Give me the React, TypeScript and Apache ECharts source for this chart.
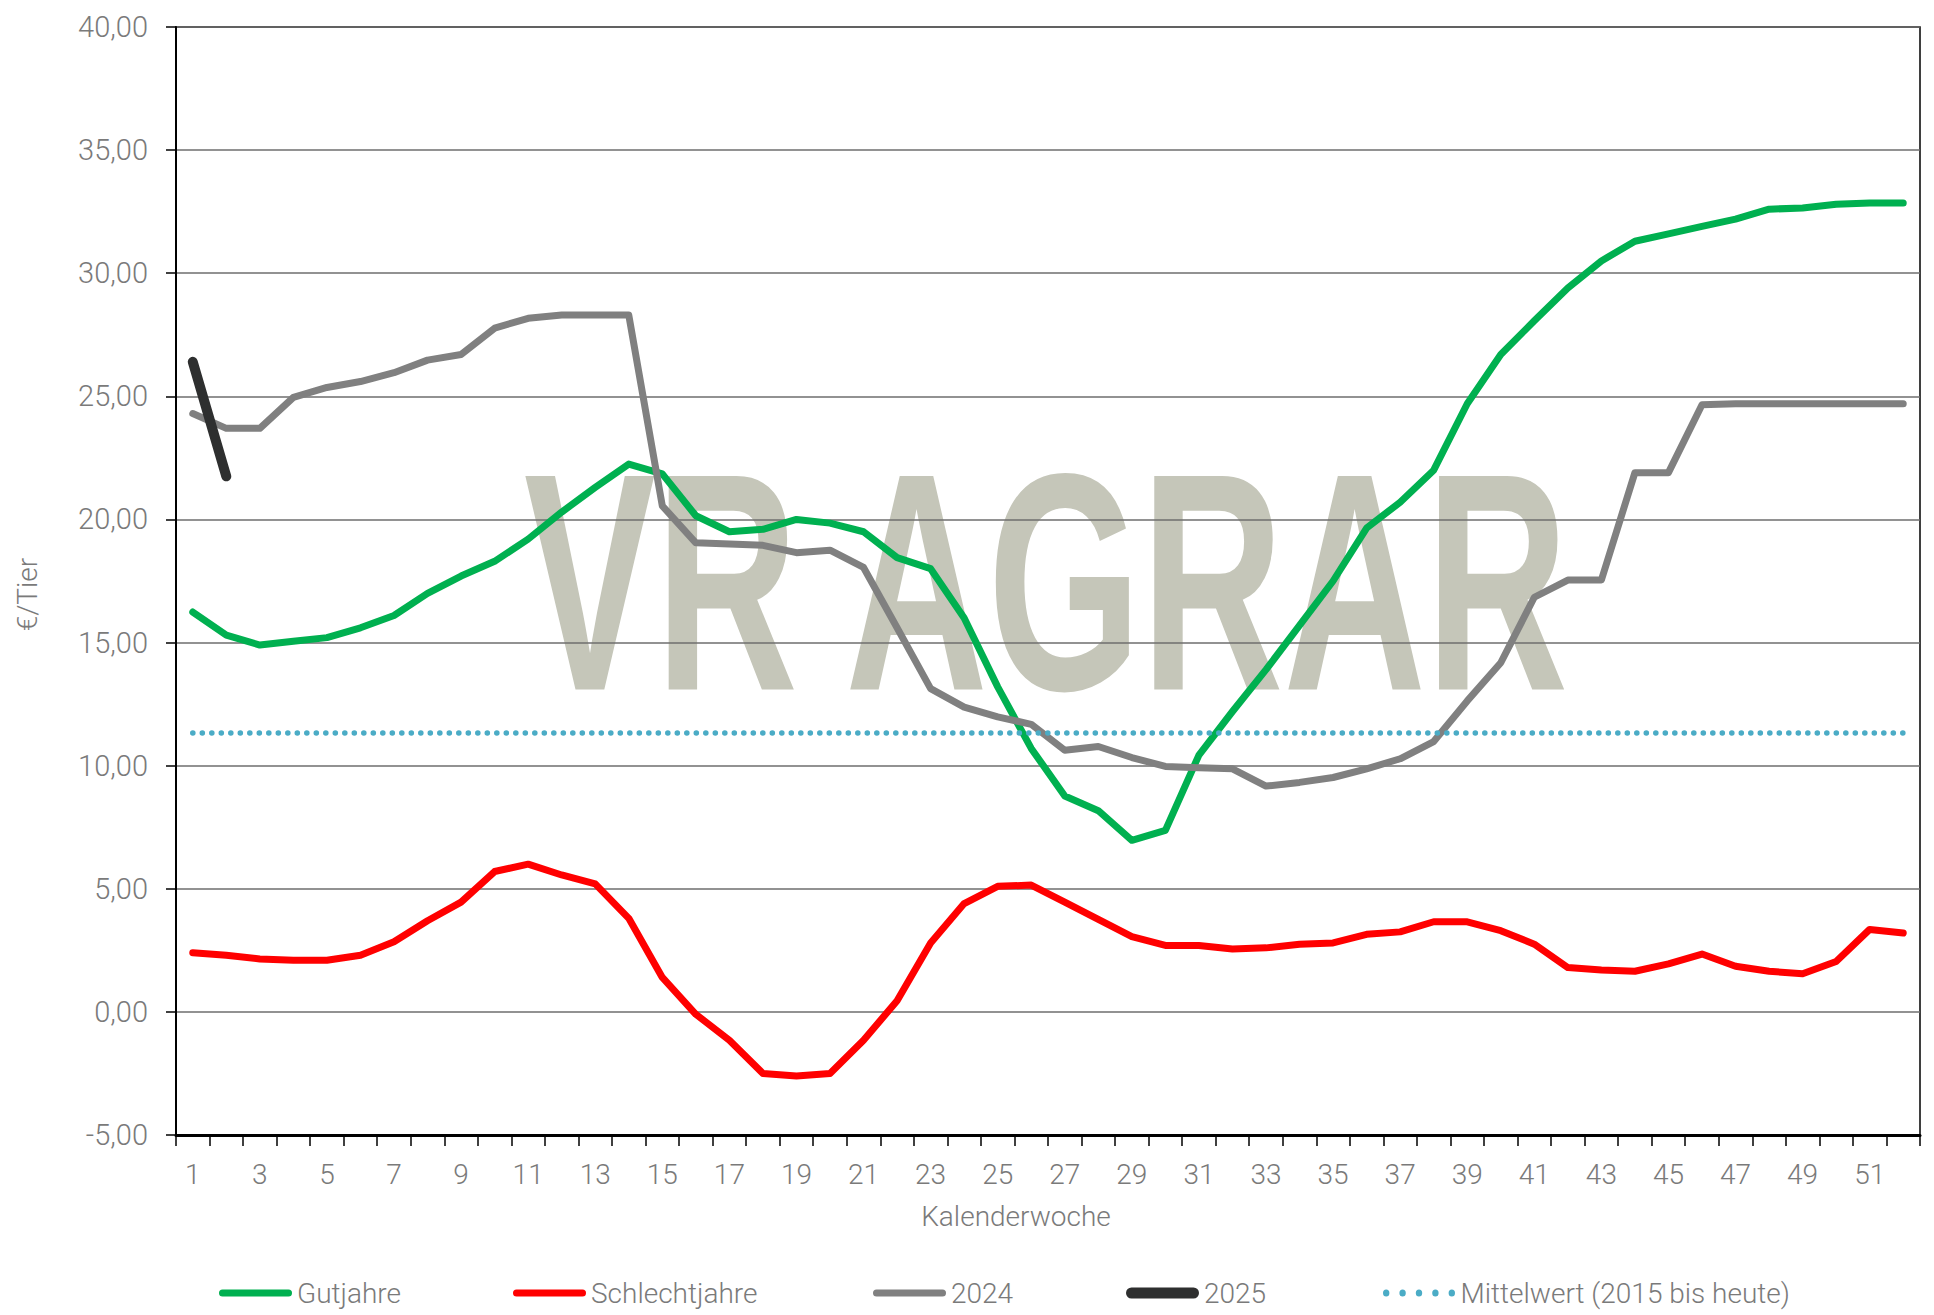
import React, { useEffect, useRef } from "react";
import * as echarts from "echarts";

const WEEKS = [
  "1","2","3","4","5","6","7","8","9","10","11","12","13","14","15","16","17","18","19","20",
  "21","22","23","24","25","26","27","28","29","30","31","32","33","34","35","36","37","38","39","40",
  "41","42","43","44","45","46","47","48","49","50","51","52",
];

const GUTJAHRE = [
  16.24, 15.3, 14.9, 15.05, 15.2, 15.6, 16.1, 17.0, 17.7, 18.3,
  19.2, 20.3, 21.3, 22.25, 21.85, 20.15, 19.5, 19.6, 20.0, 19.85,
  19.5, 18.45, 18.0, 16.0, 13.2, 10.7, 8.77, 8.17, 6.97, 7.37,
  10.43, 12.2, 13.9, 15.7, 17.5, 19.65, 20.7, 22.0, 24.7, 26.7,
  28.07, 29.4, 30.5, 31.3, 31.6, 31.9, 32.2, 32.6, 32.65, 32.8,
  32.85, 32.85,
];

const SCHLECHTJAHRE = [
  2.4, 2.3, 2.15, 2.1, 2.1, 2.3, 2.85, 3.7, 4.46, 5.7,
  6.0, 5.56, 5.2, 3.8, 1.4, -0.1, -1.15, -2.5, -2.6, -2.5,
  -1.15, 0.45, 2.8, 4.4, 5.1, 5.15, 4.46, 3.76, 3.06, 2.7,
  2.7, 2.55, 2.6, 2.75, 2.8, 3.15, 3.25, 3.66, 3.66, 3.3,
  2.75, 1.8, 1.7, 1.65, 1.95, 2.35, 1.85, 1.65, 1.55, 2.05,
  3.35, 3.2,
];

const Y2024 = [
  24.3, 23.7, 23.7, 24.96, 25.36, 25.6, 25.96, 26.47, 26.7, 27.77,
  28.17, 28.3, 28.3, 28.3, 20.55, 19.05, 19.0, 18.95, 18.65, 18.75,
  18.05, 15.6, 13.13, 12.38, 11.98, 11.68, 10.63, 10.78, 10.33, 9.97,
  9.92, 9.87, 9.17, 9.32, 9.52, 9.87, 10.28, 10.98, 12.63, 14.18,
  16.84, 17.54, 17.54, 21.9, 21.9, 24.66, 24.7, 24.7, 24.7, 24.7,
  24.7, 24.7,
];

const Y2025 = [26.4, 21.75];

const MITTELWERT = 11.33;
const MITTELWERT_SERIES = WEEKS.map(() => MITTELWERT);

const Y_TICKS = { min: -5, max: 40, interval: 5 };

const SERIES_NAMES = ["Gutjahre", "Schlechtjahre", "2024", "2025", "Mittelwert (2015 bis heute)"];
const COLORS = ["#00b050", "#ff0000", "#808080", "#2e2f2f", "#4bacc6"];

const FONT = "Roboto, 'Noto Sans', sans-serif";
const TEXT_COLOR = "#7a7a7a";

const PILL = "path://M3.5,0 L69.5,0 A3.5,3.5 0 0 1 69.5,7 L3.5,7 A3.5,3.5 0 0 1 3.5,0 Z";
const PILL_THICK = "path://M5.5,0 L67.5,0 A5.5,5.5 0 0 1 67.5,11 L5.5,11 A5.5,5.5 0 0 1 5.5,0 Z";
const DOTS =
  "path://" +
  [3.2, 19.6, 36, 52.4, 68.8]
    .map((c) => `M${c - 3.2},3.5 A3.2,3.5 0 1 0 ${c + 3.2},3.5 A3.2,3.5 0 1 0 ${c - 3.2},3.5 Z`)
    .join(" ");

export default function App() {
  const ref = useRef<HTMLDivElement>(null);

  useEffect(() => {
    document.body.style.margin = "0";
    if (!ref.current) return;
    const chart = echarts.init(ref.current, undefined, { renderer: "svg" });

    const legendLefts = [219, 513, 873, 1126, 1383];
    const icons = [PILL, PILL, PILL, PILL_THICK, DOTS];
    const iconHeights = [7, 7, 7, 11, 7];

    const option: any = {
      animation: false,
      backgroundColor: "#ffffff",
      textStyle: { fontFamily: FONT },
      grid: {
        left: 176,
        right: 14,
        top: 27,
        bottom: 180,
        show: true,
        borderColor: "#000",
        borderWidth: 1.5,
        backgroundColor: "transparent",
      },
      legend: SERIES_NAMES.map((n, i) => ({
        data: [{ name: n, icon: icons[i] }],
        left: legendLefts[i],
        top: 1279,
        orient: "horizontal",
        align: "left",
        padding: 0,
        itemWidth: 73,
        itemHeight: iconHeights[i],
        itemGap: 0,
        selectedMode: false,
        itemStyle: { color: COLORS[i], borderWidth: 0 },
        textStyle: { fontSize: 28, fontWeight: 300, color: TEXT_COLOR, fontFamily: FONT, padding: [0, 0, 0, 0] },
      })),
      graphic: [
        {
          type: "text",
          z: -10,
          x: 524,
          y: 582,
          scaleX: 0.636,
          silent: true,
          style: {
            text: "VR AGRAR",
            fontSize: 310,
            fontWeight: "bold",
            fontFamily: "'Liberation Sans', Arial, sans-serif",
            fill: "#c5c6b9",
            align: "left",
            verticalAlign: "middle",
          },
        },
      ],
      xAxis: {
        type: "category",
        data: WEEKS,
        boundaryGap: true,
        name: "Kalenderwoche",
        nameLocation: "middle",
        nameGap: 67,
        nameTextStyle: {
          fontSize: 28,
          fontWeight: 300,
          color: TEXT_COLOR,
          fontFamily: FONT,
          padding: [0, 64, 0, 0],
        },
        axisLine: { show: true, onZero: false, lineStyle: { color: "#000", width: 3 } },
        axisTick: { show: true, interval: 0, length: 11, alignWithLabel: false, lineStyle: { color: "#000", width: 1.5 } },
        axisLabel: { interval: 1, margin: 25, fontSize: 28, fontWeight: 300, color: TEXT_COLOR, fontFamily: FONT },
        splitLine: { show: false },
      },
      yAxis: {
        type: "value",
        min: Y_TICKS.min,
        max: Y_TICKS.max,
        interval: Y_TICKS.interval,
        name: "€/Tier",
        nameLocation: "middle",
        nameRotate: 90,
        nameGap: 135,
        nameTextStyle: {
          fontSize: 28,
          fontWeight: 300,
          color: TEXT_COLOR,
          fontFamily: FONT,
          padding: [0, 27, 0, 0],
        },
        axisLine: { show: true, lineStyle: { color: "#000", width: 2 } },
        axisTick: { show: true, length: 10, lineStyle: { color: "#000", width: 1.5 } },
        axisLabel: {
          margin: 28,
          fontSize: 29,
          fontWeight: 300,
          color: TEXT_COLOR,
          fontFamily: FONT,
          formatter: (v: number) => v.toFixed(2).replace(".", ","),
        },
        splitLine: { show: true, lineStyle: { color: "#6e6e6e", width: 1.5 } },
      },
      series: [
        {
          name: SERIES_NAMES[0],
          type: "line",
          data: GUTJAHRE,
          symbol: "none",
          lineStyle: { color: COLORS[0], width: 7, cap: "round", join: "round" },
          itemStyle: { color: COLORS[0] },
        },
        {
          name: SERIES_NAMES[1],
          type: "line",
          data: SCHLECHTJAHRE,
          symbol: "none",
          lineStyle: { color: COLORS[1], width: 7, cap: "round", join: "round" },
          itemStyle: { color: COLORS[1] },
        },
        {
          name: SERIES_NAMES[2],
          type: "line",
          data: Y2024,
          symbol: "none",
          lineStyle: { color: COLORS[2], width: 7, cap: "round", join: "round" },
          itemStyle: { color: COLORS[2] },
        },
        {
          name: SERIES_NAMES[3],
          type: "line",
          data: Y2025,
          symbol: "none",
          lineStyle: { color: COLORS[3], width: 10, cap: "round", join: "round" },
          itemStyle: { color: COLORS[3] },
        },
        {
          name: SERIES_NAMES[4],
          type: "line",
          data: MITTELWERT_SERIES,
          symbol: "none",
          lineStyle: { color: COLORS[4], width: 5.5, type: [0.1, 9.4], cap: "round" },
          itemStyle: { color: COLORS[4] },
        },
      ],
    };

    chart.setOption(option);
    return () => chart.dispose();
  }, []);

  return <div ref={ref} style={{ width: 1934, height: 1315 }} />;
}
